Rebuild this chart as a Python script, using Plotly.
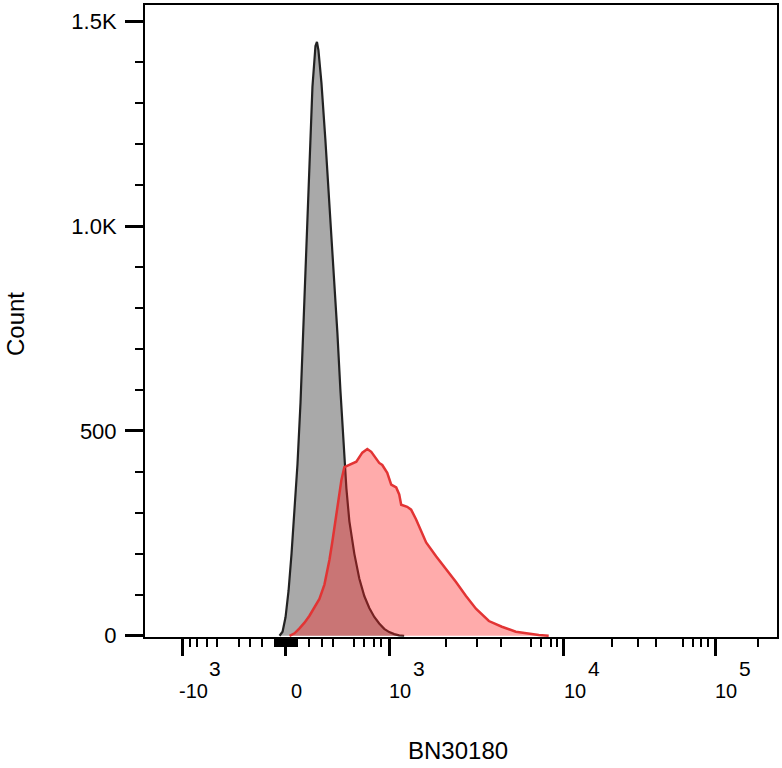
import numpy as np
import plotly.graph_objects as go

# ---------------- data (x in display channels 0-1024 of a biexponential axis) ----------------
control_channel = [218.0, 222.9, 227.7, 232.6, 237.4, 242.3, 247.1, 252.0, 256.8, 261.6, 266.5,
                   271.3, 276.2, 278.6, 281.0, 285.9, 292.3, 298.8, 305.3, 311.7, 316.6, 321.4,
                   326.3, 331.1, 339.2, 347.2, 355.3, 363.4, 371.5, 379.5, 387.6, 395.7, 403.8,
                   411.9, 419.9]
control_count = [0, 10, 45, 110, 200, 300, 420, 570, 760, 960, 1170,
                 1340, 1440, 1450, 1430, 1350, 1210, 1060, 900, 740, 600, 470,
                 360, 280, 200, 140, 97, 68, 46, 30, 17, 9,
                 4, 1, 0]

sample_channel = [234.2, 242.3, 250.3, 258.4, 266.5, 274.6, 282.6, 290.7, 298.8, 303.6, 308.5,
                  313.3, 318.2, 323.0, 331.1, 342.4, 352.1, 360.2, 366.6, 374.7, 379.5, 384.4,
                  392.5, 398.9, 407.0, 411.9, 415.1, 424.8, 431.2, 439.3, 455.5, 471.6, 487.8,
                  503.9, 520.1, 536.2, 557.2, 578.2, 600.8, 621.8, 638.0, 654.1]
sample_count = [0, 6, 18, 32, 49, 68, 90, 125, 185, 230, 280,
                330, 380, 412, 417, 425, 447, 456, 449, 430, 422, 417,
                398, 369, 362, 345, 320, 315, 308, 284, 228, 194, 163,
                131, 97, 66, 36, 22, 10, 5, 2, 0]

x_title = "BN30180"
y_title = "Count"

# ---------------- biexponential scale (value -> display channel) ----------------
zero_channel = 228.0
low_values = [100, 200, 300, 400, 500, 600, 700, 800, 900, 1000]
low_offsets = [18, 38.5, 58, 76, 95, 111, 127, 143, 155, 168]
high_values = [2000, 3000, 4000, 5000, 6000, 7000, 8000, 9000, 10000,
               20000, 30000, 40000, 50000, 60000, 70000, 80000, 90000, 100000, 200000]
high_channels = [487.8, 537.8, 576.6, 602.4, 625.0, 641.2, 657.3, 667.0, 678.3,
                 755.9, 799.5, 828.5, 852.8, 872.2, 888.3, 901.2, 912.5, 923.8, 993.3]

scale_v = ([-v for v in low_values[::-1]] + [0] + low_values + high_values)
scale_c = ([zero_channel - o for o in low_offsets[::-1]] + [zero_channel]
           + [zero_channel + o for o in low_offsets] + high_channels)


def biex(v):
    return float(np.interp(v, scale_v, scale_c))


major_values = [-1000, 0, 1000, 10000, 100000]
medium_values = [-500, 500, 5000, 50000]
tens = [s * k for s in (-1, 1) for k in range(10, 100, 10)]
minor_values = ([-v for v in low_values if v not in (500, 1000)] +
                [v for v in low_values if v not in (500, 1000)] +
                [v for v in high_values if v not in (5000, 10000, 50000, 100000)] + tens)

x_labels = [(-1000, "-10", "3"), (0, "0", None), (1000, "10", "3"),
            (10000, "10", "4"), (100000, "10", "5")]

y_major = [0, 500, 1000, 1500]
y_major_text = ["0", "500", "1.0K", "1.5K"]
y_minor = [v for v in range(100, 1500, 100) if v not in y_major]

FONT = "Arial, Liberation Sans, sans-serif"

fig = go.Figure()
fig.add_trace(go.Scatter(x=control_channel, y=control_count, mode="lines",
                         line=dict(color="#222222", width=2.2),
                         fill="tozeroy", fillcolor="#a9a9a9", hoverinfo="skip"))
fig.add_trace(go.Scatter(x=sample_channel, y=sample_count, mode="lines",
                         line=dict(color="rgb(226,52,52)", width=2.5),
                         fill="tozeroy", fillcolor="rgba(255,35,35,0.38)", hoverinfo="skip"))

xrange = [0, 1024]
fig.update_layout(
    width=782, height=768,
    margin=dict(l=145, r=3, t=3, b=131),
    paper_bgcolor="white", plot_bgcolor="white",
    showlegend=False,
    font=dict(family=FONT, color="black"),
    xaxis=dict(range=xrange, showgrid=False, zeroline=False,
               showline=True, linecolor="black", linewidth=2, mirror=True,
               ticks="outside", tickvals=[biex(v) for v in major_values],
               ticklen=17, tickwidth=3, tickcolor="black", showticklabels=False,
               minor=dict(tickmode="array", tickvals=[biex(v) for v in minor_values],
                          ticks="outside", ticklen=8, tickwidth=2, tickcolor="black",
                          showgrid=False)),
    xaxis2=dict(range=xrange, overlaying="x", anchor="y", side="bottom",
                showgrid=False, zeroline=False, showline=False,
                ticks="outside", tickvals=[biex(v) for v in medium_values],
                ticklen=12, tickwidth=2, tickcolor="black", showticklabels=False),
    yaxis=dict(range=[-3, 1540], showgrid=False, zeroline=False,
               showline=True, linecolor="black", linewidth=2, mirror=True,
               ticks="outside", tickvals=y_major, ticktext=y_major_text,
               ticklen=18, tickwidth=3, tickcolor="black", ticklabelstandoff=4,
               tickfont=dict(size=22, family=FONT, color="black"),
               minor=dict(tickmode="array", tickvals=y_minor, ticks="outside",
                          ticklen=8, tickwidth=2, tickcolor="black", showgrid=False)),
)

# x tick labels (FlowJo style, base text plus large exponent)
for v, base, exp in x_labels:
    fig.add_annotation(x=biex(v), xref="x", y=0, yref="paper", text=base,
                       showarrow=False, xanchor="center", yanchor="middle",
                       xshift=11, yshift=-54, font=dict(size=20, family=FONT, color="black"))
    if exp:
        fig.add_annotation(x=biex(v), xref="x", y=0, yref="paper", text=exp,
                           showarrow=False, xanchor="left", yanchor="middle",
                           xshift=22 if base == "10" else 25, yshift=-31,
                           font=dict(size=21, family=FONT, color="black"))

fig.add_annotation(x=0.5, xref="paper", y=0, yref="paper", text=x_title, showarrow=False,
                   xanchor="center", yanchor="middle", xshift=-3, yshift=-113,
                   font=dict(size=24, family=FONT, color="black"))
fig.add_annotation(x=0, xref="paper", y=0.5, yref="paper", text=y_title, showarrow=False,
                   textangle=-90, xanchor="center", yanchor="middle", xshift=-130, yshift=-3,
                   font=dict(size=24, family=FONT, color="black"))

fig.write_html("out.html")
